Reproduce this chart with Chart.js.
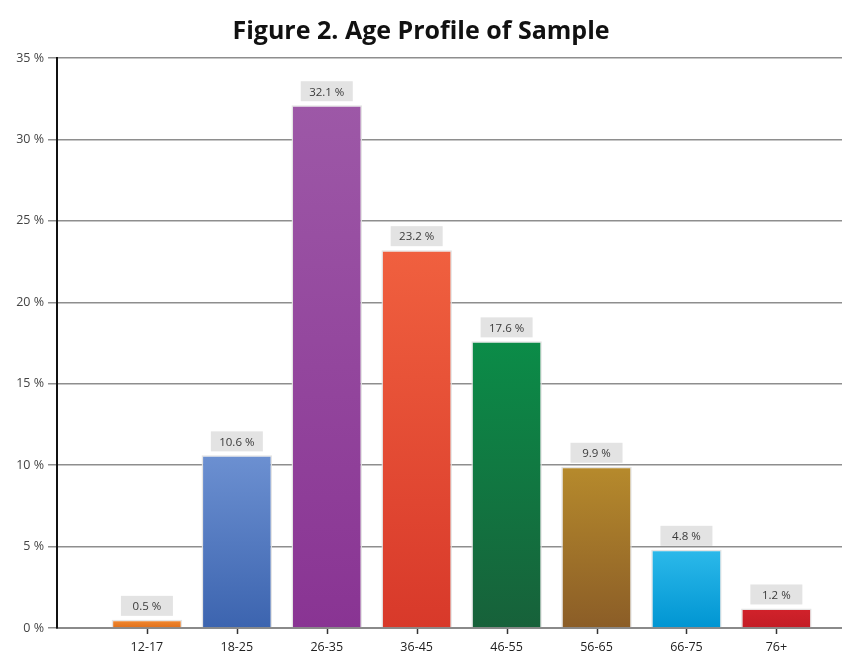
<!DOCTYPE html>
<html>
<head>
<meta charset="utf-8">
<script src="https://cdn.jsdelivr.net/npm/chart.js@4/dist/chart.umd.min.js"></script>
<style>
  html, body { margin: 0; padding: 0; background: #fff; }
  #wrap { width: 842px; height: 652px; }
</style>
</head>
<body>
<div id="wrap"><canvas id="ageChart" width="842" height="652"></canvas></div>
<script>
const ageGroups = ["12-17", "18-25", "26-35", "36-45", "46-55", "56-65", "66-75", "76+"];
const sharePct = [0.5, 10.6, 32.1, 23.2, 17.6, 9.9, 4.8, 1.2];
const topColors = ["#f28a32", "#6c90d1", "#9d58a7", "#f0603f", "#0b8c48", "#b68a2c", "#2cb9ea", "#d2222b"];
const bottomColors = ["#e06f1a", "#3c64af", "#893493", "#d8392a", "#17613a", "#8b5d27", "#0095d2", "#c31d26"];
const yTicks = [0, 5, 10, 15, 20, 25, 30, 35];

// bars sit at x = 1..8 on a linear axis, leaving a gap next to the y axis
const points = sharePct.map((v, i) => ({ x: i + 1, y: v }));

function barGradient(ctx) {
    const chart = ctx.chart;
    const i = ctx.dataIndex;
    if (!chart.chartArea || i === undefined) return topColors[i] || "#888";
    const y = chart.scales.y;
    const top = y.getPixelForValue(sharePct[i]);
    const bottom = y.getPixelForValue(0);
    const g = chart.ctx.createLinearGradient(0, top, 0, bottom);
    g.addColorStop(0, topColors[i]);
    g.addColorStop(1, bottomColors[i]);
    return g;
}

// grey boxes with the value above each bar, plus the small marks under the x axis
const valueBoxes = {
    id: "valueBoxes",
    afterDatasetsDraw(chart) {
        const ctx = chart.ctx;
        const meta = chart.getDatasetMeta(0);
        ctx.save();
        ctx.font = "11.5px 'Open Sans'";
        ctx.textAlign = "center";
        ctx.textBaseline = "middle";
        meta.data.forEach((bar, i) => {
            const text = sharePct[i].toFixed(1) + " %";
            const w = 52, h = 20;
            const x = bar.x - w / 2;
            const y = bar.y - 4 - h;
            ctx.fillStyle = "#e3e3e3";
            ctx.fillRect(x, y, w, h);
            ctx.fillStyle = "#3a3a3a";
            ctx.fillText(text, bar.x, y + h / 2 + 1);
        });

        const xs = chart.scales.x;
        const base = chart.scales.y.getPixelForValue(0);
        ctx.strokeStyle = "#333";
        ctx.lineWidth = 1.5;
        ageGroups.forEach((_, i) => {
            const px = Math.round(xs.getPixelForValue(i + 1)) + 0.5;
            ctx.beginPath();
            ctx.moveTo(px, base + 1);
            ctx.lineTo(px, base + 6);
            ctx.stroke();
        });
        ctx.restore();
    }
};

new Chart(document.getElementById("ageChart"), {
    type: "bar",
    data: {
        datasets: [{
            data: points,
            backgroundColor: barGradient,
            borderColor: "rgba(225,225,225,0.9)",
            borderWidth: 1.5,
            borderSkipped: "bottom",
            categoryPercentage: 0.8,
            barPercentage: 0.98,
        }],
    },
    options: {
        responsive: false,
        animation: false,
        plugins: {
            legend: { display: false },
            tooltip: { enabled: false },
            title: {
                display: true,
                text: "Figure 2. Age Profile of Sample",
                color: "#111",
                font: { family: "'Open Sans'", size: 25, weight: "bold" },
                padding: { top: 17, bottom: 11 },
            },
        },
        scales: {
            x: {
                type: "linear",
                min: 0,
                max: 8.73,
                offset: false,
                afterBuildTicks: (axis) => {
                    axis.ticks = ageGroups.map((_, i) => ({ value: i + 1 }));
                },
                afterFit: (axis) => { axis.height = 24; },
                ticks: {
                    autoSkip: false,
                    maxRotation: 0,
                    padding: 4,
                    color: "#222",
                    font: { family: "'Open Sans'", size: 12.5 },
                    callback: (v) => ageGroups[v - 1] || "",
                },
                grid: { display: false },
                border: { display: true, color: "#8a8a8a", width: 2 },
            },
            y: {
                min: 0,
                max: 35,
                afterBuildTicks: (axis) => {
                    axis.ticks = yTicks.map((v) => ({ value: v }));
                },
                afterFit: (axis) => { axis.width = 57; },
                ticks: {
                    padding: 4,
                    color: "#444",
                    font: { family: "'Open Sans'", size: 12.5 },
                    callback: (v) => v + " %",
                },
                grid: {
                    color: "#8e8e8e",
                    lineWidth: 1.5,
                    tickLength: 9,
                },
                border: { display: true, color: "#111", width: 2 },
            },
        },
    },
    plugins: [valueBoxes],
});
</script>
</body>
</html>
